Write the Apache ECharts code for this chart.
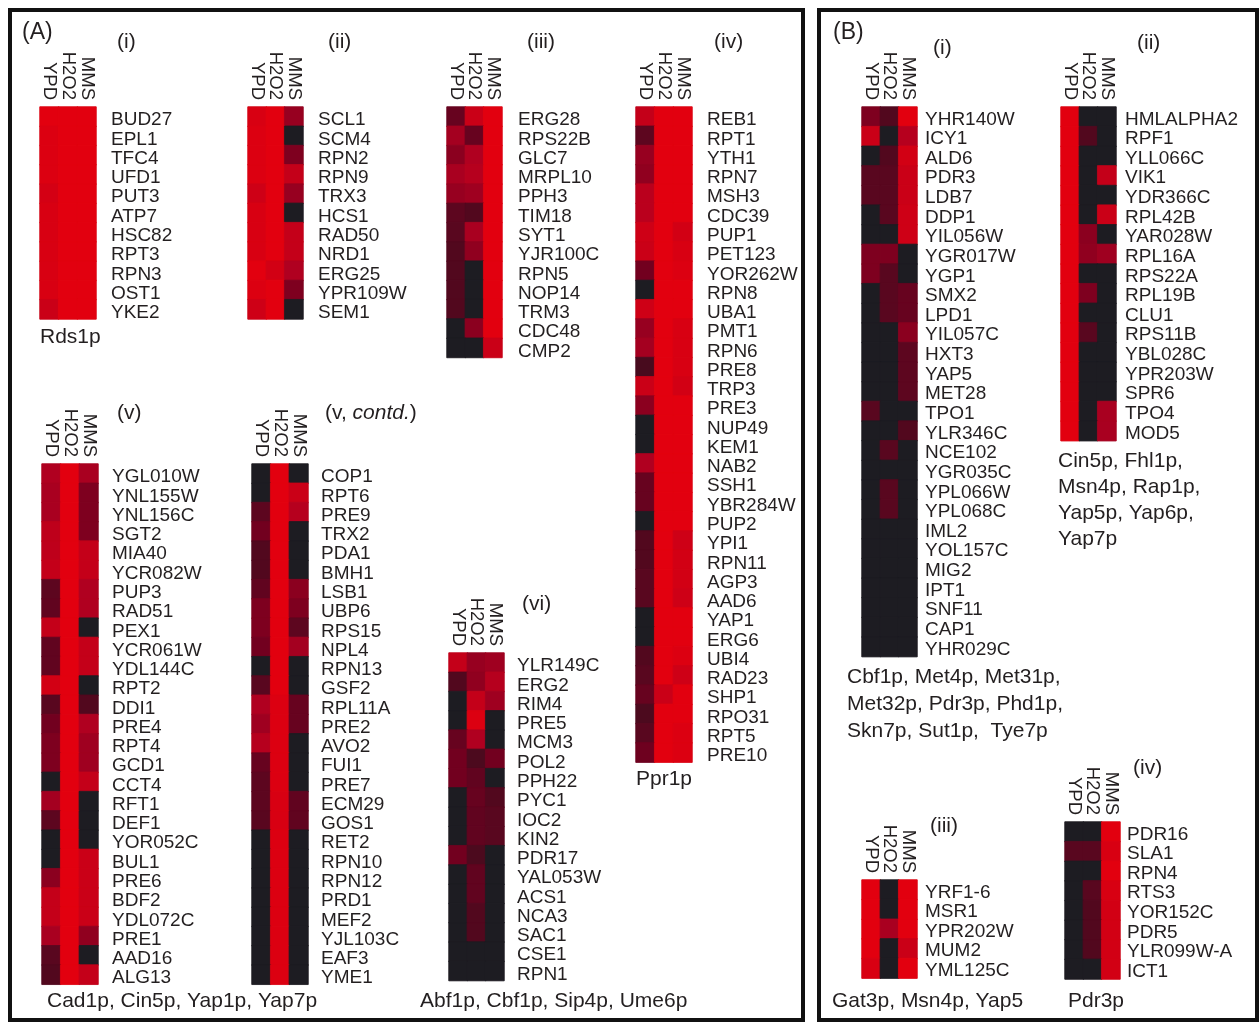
<!DOCTYPE html>
<html>
<head>
<meta charset="utf-8">
<script src="https://cdn.jsdelivr.net/npm/echarts@6/dist/echarts.min.js"></script>
<style>
  html, body { margin: 0; padding: 0; background: #fff; }
  #chart { width: 1260px; height: 1024px; }
</style>
</head>
<body>
<div id="chart"></div>
<script>
// Conditions (heatmap columns)
const conditions = ['YPD', 'H2O2', 'MMS'];

// Relative expression level per gene: 0 = low (black) .. 1 = high (red)
// (A)(i) Rds1p targets
const aiGenes = ['BUD27','EPL1','TFC4','UFD1','PUT3','ATP7','HSC82','RPT3','RPN3','OST1','YKE2'];
const aiValues = [
  [1,1,1],[0.97,1,1],[0.97,1,1],[0.97,1,1],[0.93,1,1],[0.95,1,1],
  [0.95,1,1],[0.95,1,1],[0.95,1,1],[0.95,1,1],[0.88,1,1]
];

// (A)(ii)
const aiiGenes = ['SCL1','SCM4','RPN2','RPN9','TRX3','HCS1','RAD50','NRD1','ERG25','YPR109W','SEM1'];
const aiiValues = [
  [0.95,1,0.65],[0.97,1,0],[0.97,1,0.55],[0.97,1,0.85],[0.9,1,0.65],[0.95,1,0],
  [0.95,1,0.85],[0.95,1,0.85],[1,0.92,0.75],[0.97,1,0.55],[0.9,1,0]
];

// (A)(iii)
const aiiiGenes = ['ERG28','RPS22B','GLC7','MRPL10','PPH3','TIM18','SYT1','YJR100C','RPN5','NOP14','TRM3','CDC48','CMP2'];
const aiiiValues = [
  [0.45,0.88,1],[0.7,0.45,1],[0.6,0.75,1],[0.72,0.78,1],[0.65,0.68,1],[0.4,0.35,1],
  [0.38,0.72,1],[0.35,0.62,1],[0.35,0,1],[0.35,0,1],[0.35,0,1],[0,0.6,1],[0,0,0.88]
];

// (A)(iv) Ppr1p targets
const aivGenes = ['REB1','RPT1','YTH1','RPN7','MSH3','CDC39','PUP1','PET123','YOR262W','RPN8','UBA1','PMT1',
  'RPN6','PRE8','TRP3','PRE3','NUP49','KEM1','NAB2','SSH1','YBR284W','PUP2','YPI1','RPN11','AGP3','AAD6',
  'YAP1','ERG6','UBI4','RAD23','SHP1','RPO31','RPT5','PRE10'];
const aivValues = [
  [0.85,1,1],[0.4,1,1],[0.65,1,1],[0.62,1,1],[0.8,1,1],[0.8,1,1],[0.9,1,0.92],[0.88,1,0.95],
  [0.5,1,0.97],[0,1,1],[0.9,1,1],[0.65,1,0.95],[0.7,1,0.95],[0.3,1,0.95],[0.88,1,0.92],[0.6,1,1],
  [0,1,1],[0,1,1],[0.75,1,1],[0.45,1,1],[0.45,1,1],[0,1,1],[0.35,1,0.9],[0.35,1,0.92],
  [0.38,1,0.92],[0.38,1,0.9],[0,1,1],[0,1,1],[0.35,1,0.97],[0.38,1,0.9],[0.45,0.88,1],[0.32,1,1],
  [0.38,1,0.97],[0.48,1,0.97]
];

// (A)(v) Cad1p, Cin5p, Yap1p, Yap7p targets
const avGenes = ['YGL010W','YNL155W','YNL156C','SGT2','MIA40','YCR082W','PUP3','RAD51','PEX1','YCR061W',
  'YDL144C','RPT2','DDI1','PRE4','RPT4','GCD1','CCT4','RFT1','DEF1','YOR052C','BUL1','PRE6','BDF2',
  'YDL072C','PRE1','AAD16','ALG13'];
const avValues = [
  [0.75,1,0.72],[0.72,1,0.55],[0.72,1,0.55],[0.82,1,0.55],[0.82,1,0.85],[0.85,1,0.85],[0.4,1,0.75],
  [0.42,1,0.75],[0.85,1,0],[0.42,1,0.85],[0.42,1,0.85],[0.92,1,0],[0.38,1,0.35],[0.5,1,0.75],
  [0.55,1,0.68],[0.55,1,0.68],[0,1,0.85],[0.7,1,0],[0.4,1,0],[0,1,0],[0,1,0.88],[0.6,1,0.88],
  [0.85,1,0.88],[0.85,1,0.88],[0.72,1,0.62],[0.38,1,0],[0.35,1,0.85]
];

// (A)(v, contd.)
const avcGenes = ['COP1','RPT6','PRE9','TRX2','PDA1','BMH1','LSB1','UBP6','RPS15','NPL4','RPN13','GSF2',
  'RPL11A','PRE2','AVO2','FUI1','PRE7','ECM29','GOS1','RET2','RPN10','RPN12','PRD1','MEF2','YJL103C',
  'EAF3','YME1'];
const avcValues = [
  [0,1,0],[0,1,0.88],[0.4,1,0.78],[0.5,1,0],[0.35,1,0],[0.35,1,0],[0.42,1,0.6],[0.55,1,0.55],
  [0.55,1,0.4],[0.5,1,0.7],[0,1,0],[0.38,1,0],[0.75,0.97,0.45],[0.68,0.97,0.45],[0.78,0.97,0],
  [0.45,0.97,0],[0.4,0.97,0],[0.4,0.95,0.42],[0.38,0.95,0.42],[0,0.97,0],[0,0.97,0],[0,0.97,0],
  [0,0.97,0],[0,0.97,0],[0,0.97,0],[0,0.97,0],[0,0.97,0]
];

// (A)(vi) Abf1p, Cbf1p, Sip4p, Ume6p targets
const aviGenes = ['YLR149C','ERG2','RIM4','PRE5','MCM3','POL2','PPH22','PYC1','IOC2','KIN2','PDR17',
  'YAL053W','ACS1','NCA3','SAC1','CSE1','RPN1'];
const aviValues = [
  [0.85,0.65,0.68],[0.35,0.62,0.78],[0,0.85,0.68],[0,0.97,0],[0.45,0.75,0],[0.5,0.32,0.5],
  [0.5,0.42,0],[0,0.45,0.35],[0,0.42,0.38],[0,0.42,0.38],[0.5,0.32,0],[0,0.42,0],[0,0.42,0],
  [0,0.35,0],[0,0.35,0],[0,0,0],[0,0,0]
];

// (B)(i)
const biGenes = ['YHR140W','ICY1','ALD6','PDR3','LDB7','DDP1','YIL056W','YGR017W','YGP1','SMX2','LPD1',
  'YIL057C','HXT3','YAP5','MET28','TPO1','YLR346C','NCE102','YGR035C','YPL066W','YPL068C','IML2',
  'YOL157C','MIG2','IPT1','SNF11','CAP1','YHR029C'];
const biValues = [
  [0.55,0.35,1],[0.88,0,0.78],[0,0.35,0.92],[0.38,0.38,0.88],[0.38,0.38,0.88],[0,0.38,0.9],
  [0,0,0.9],[0.55,0.55,0],[0.55,0.38,0],[0,0.38,0.45],[0,0.38,0.45],[0,0,0.6],[0,0,0.4],
  [0,0,0.4],[0,0,0.4],[0.38,0,0],[0,0,0.35],[0,0.38,0],[0,0,0],[0,0.38,0],[0,0.38,0],
  [0,0,0],[0,0,0],[0,0,0],[0,0,0],[0,0,0],[0,0,0],[0,0,0]
];

// (B)(ii)
const biiGenes = ['HMLALPHA2','RPF1','YLL066C','VIK1','YDR366C','RPL42B','YAR028W','RPL16A','RPS22A',
  'RPL19B','CLU1','RPS11B','YBL028C','YPR203W','SPR6','TPO4','MOD5'];
const biiValues = [
  [1,0,0],[1,0.35,0],[1,0,0],[1,0,0.85],[1,0,0],[1,0,0.88],[1,0.6,0],[1,0.62,0.68],[1,0,0],
  [1,0.55,0],[1,0,0],[1,0.38,0],[1,0,0],[1,0,0],[1,0,0],[1,0,0.72],[1,0,0.72]
];

// (B)(iii)
const biiiGenes = ['YRF1-6','MSR1','YPR202W','MUM2','YML125C'];
const biiiValues = [[1,0,1],[1,0,1],[1,0.72,1],[1,0,0.88],[0.95,0,1]];

// (B)(iv) Pdr3p targets
const bivGenes = ['PDR16','SLA1','RPN4','RTS3','YOR152C','PDR5','YLR099W-A','ICT1'];
const bivValues = [[0,0,1],[0.38,0.38,0.95],[0,0,1],[0,0.38,0.95],[0,0.35,0.92],[0,0.35,0.92],[0,0.35,0.92],[0,0,0.92]];

// Colour ramp: low (near black) -> maroon -> high (red)
const RAMP = ['#1d1c22', '#3d0e1e', '#72001f', '#b00020', '#e2000f'];

// Placement of each heatmap block (pixels); drop = downward nudge of gene labels
const blocks = [
  { genes: aiGenes,   values: aiValues,   left: 40,   top: 107, width: 56, rowH: 19.27, gap: 15, drop: 7 },
  { genes: aiiGenes,  values: aiiValues,  left: 248,  top: 107, width: 55, rowH: 19.27, gap: 15, drop: 7 },
  { genes: aiiiGenes, values: aiiiValues, left: 447,  top: 107, width: 55, rowH: 19.27, gap: 16, drop: 7 },
  { genes: aivGenes,  values: aivValues,  left: 636,  top: 107, width: 56, rowH: 19.27, gap: 15, drop: 7 },
  { genes: avGenes,   values: avValues,   left: 42,   top: 464, width: 56, rowH: 19.27, gap: 14, drop: 7 },
  { genes: avcGenes,  values: avcValues,  left: 252,  top: 464, width: 56, rowH: 19.27, gap: 13, drop: 7 },
  { genes: aviGenes,  values: aviValues,  left: 449,  top: 653, width: 55, rowH: 19.27, gap: 13, drop: 7 },
  { genes: biGenes,   values: biValues,   left: 862,  top: 107, width: 55, rowH: 19.63, gap: 8,  drop: 5 },
  { genes: biiGenes,  values: biiValues,  left: 1061, top: 107, width: 55, rowH: 19.63, gap: 9,  drop: 5 },
  { genes: biiiGenes, values: biiiValues, left: 862,  top: 880, width: 55, rowH: 19.63, gap: 8,  drop: 5 },
  { genes: bivGenes,  values: bivValues,  left: 1065, top: 822, width: 55, rowH: 19.63, gap: 7,  drop: 5 }
];

const FONT = '"Liberation Sans", Arial, Helvetica, sans-serif';
const INK = '#231f20';

const grids = [], xAxes = [], yAxes = [], series = [];
blocks.forEach((b, i) => {
  grids.push({
    left: b.left, top: b.top, width: b.width, height: b.genes.length * b.rowH,
    show: true, borderColor: '#d9cfd0', borderWidth: 1, backgroundColor: 'transparent'
  });
  xAxes.push({
    type: 'category', gridIndex: i, position: 'top', data: conditions,
    axisLine: { show: false }, axisTick: { show: false }, splitLine: { show: false },
    axisLabel: { rotate: 90, interval: 0, margin: 7, fontSize: 18.5, color: INK, fontFamily: FONT }
  });
  yAxes.push({
    type: 'category', gridIndex: i, position: 'right', inverse: true, data: b.genes,
    axisLine: { show: false }, axisTick: { show: false }, splitLine: { show: false },
    axisLabel: { interval: 0, margin: b.gap, fontSize: 19, color: INK, fontFamily: FONT,
      verticalAlign: 'top', lineHeight: b.drop }
  });
  const data = [];
  b.values.forEach((row, r) => row.forEach((v, c) => {
    const col = echarts.color.lerp(v, RAMP);
    // matching thin stroke closes anti-aliasing seams between neighbouring cells
    data.push({ value: [c, r, v], itemStyle: { color: col, borderColor: col, borderWidth: 0.8 } });
  }));
  series.push({
    type: 'heatmap', xAxisIndex: i, yAxisIndex: i, data: data,
    emphasis: { disabled: true }, progressive: 0
  });
});

function txt(x, y, text, size) {
  return {
    type: 'text', x: x, y: y, z: 10,
    style: { text: text, fontSize: size, fontFamily: FONT, fill: INK,
      textVerticalAlign: 'middle', textAlign: 'left' }
  };
}

const graphics = [
  { type: 'rect', shape: { x: 10, y: 10, width: 793, height: 1010 },
    style: { fill: 'none', stroke: '#111', lineWidth: 4 } },
  { type: 'rect', shape: { x: 819, y: 10, width: 438, height: 1010 },
    style: { fill: 'none', stroke: '#111', lineWidth: 4 } },
  txt(22, 33, '(A)', 23),
  txt(117, 42, '(i)', 21),
  txt(328, 42, '(ii)', 21),
  txt(527, 42, '(iii)', 21),
  txt(714, 42, '(iv)', 21),
  txt(117, 413, '(v)', 21),
  {
    type: 'text', x: 325, y: 413, z: 10,
    style: { text: '(v, {i|contd.})', fontSize: 21, fontFamily: FONT, fill: INK,
      textVerticalAlign: 'middle', textAlign: 'left',
      rich: { i: { fontStyle: 'italic', fontSize: 21, fontFamily: FONT, fill: INK } } }
  },
  txt(522, 604, '(vi)', 21),
  txt(833, 33, '(B)', 23),
  txt(933, 48, '(i)', 21),
  txt(1137, 43, '(ii)', 21),
  txt(930, 826, '(iii)', 21),
  txt(1133, 768, '(iv)', 21),
  txt(40, 337, 'Rds1p', 21),
  txt(636, 779, 'Ppr1p', 21),
  txt(47, 1001, 'Cad1p, Cin5p, Yap1p, Yap7p', 21),
  txt(420, 1001, 'Abf1p, Cbf1p, Sip4p, Ume6p', 21),
  txt(847, 677, 'Cbf1p, Met4p, Met31p,', 21),
  txt(847, 704, 'Met32p, Pdr3p, Phd1p,', 21),
  txt(847, 731, 'Skn7p, Sut1p,  Tye7p', 21),
  txt(1058, 461, 'Cin5p, Fhl1p,', 21),
  txt(1058, 487, 'Msn4p, Rap1p,', 21),
  txt(1058, 513, 'Yap5p, Yap6p,', 21),
  txt(1058, 539, 'Yap7p', 21),
  txt(832, 1001, 'Gat3p, Msn4p, Yap5', 21),
  txt(1068, 1001, 'Pdr3p', 21)
];

const chart = echarts.init(document.getElementById('chart'), null, { renderer: 'canvas' });
chart.setOption({
  animation: false,
  backgroundColor: '#ffffff',
  grid: grids,
  xAxis: xAxes,
  yAxis: yAxes,
  series: series,
  graphic: graphics
});
</script>
</body>
</html>
